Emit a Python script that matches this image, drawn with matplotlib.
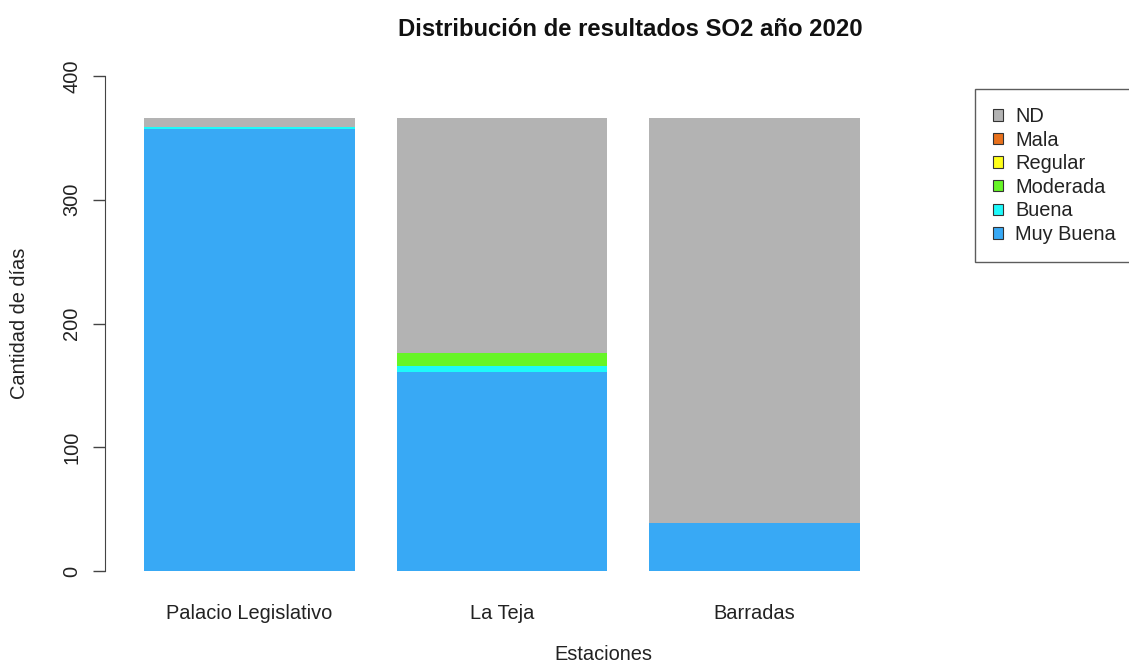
import matplotlib
matplotlib.use("Agg")
import matplotlib.pyplot as plt
from matplotlib.patches import Patch
import numpy as np

plt.rcParams['font.family'] = ['Liberation Sans', 'DejaVu Sans']

stations = ["Palacio Legislativo", "La Teja", "Barradas"]
categories = ["Muy Buena", "Buena", "Moderada", "Regular", "Mala", "ND"]
muy_buena = [357, 161, 39]
buena = [2, 5, 0]
moderada = [0, 10, 0]
regular = [0, 0, 0]
mala = [0, 0, 0]
nd = [7, 190, 327]
colors = ["#38A9F5", "#1EF9FA", "#66F526", "#FFFF1A", "#E8711C", "#B3B3B3"]
yticks = [0, 100, 200, 300, 400]

series = [muy_buena, buena, moderada, regular, mala, nd]

W, H = 1129, 664
fig = plt.figure(figsize=(W / 100, H / 100), dpi=100)
ax = fig.add_axes([105 / W, (H - 571) / H, 784 / W, 495 / H])

x = np.array([0.7, 1.9, 3.1])
bottom = np.zeros(3)
for vals, col in zip(series, colors):
    ax.bar(x, vals, width=1.0, bottom=bottom, color=col, edgecolor='none')
    bottom += np.array(vals)

ax.set_xlim(0.0148, 3.7375)
ax.set_ylim(0, 400)
for s in ['top', 'right', 'bottom']:
    ax.spines[s].set_visible(False)
ax.spines['left'].set_color('#444444')
ax.set_yticks(yticks)
ax.set_yticklabels([str(v) for v in yticks], rotation=90, va='center')
ax.tick_params(axis='y', length=9, width=1, color='#444444', pad=8, labelsize=14.4, labelcolor='#222222')
ax.set_xticks(x)
ax.set_xticklabels(stations)
ax.tick_params(axis='x', length=0, pad=24, labelsize=14.4, labelcolor='#222222')

fig.text(603 / W, 1 - 655 / H, "Estaciones", ha='center', va='center', fontsize=14.4, color='#222222')
fig.text(20 / W, 1 - 323 / H, "Cantidad de días", ha='center', va='center', rotation=90, fontsize=14.4, color='#222222')
fig.text(630 / W, 1 - 30 / H, "Distribución de resultados SO2 año 2020", ha='center', va='center',
         fontsize=17.2, fontweight='bold', color='#111111')

handles = [Patch(facecolor=c, edgecolor='#333333', linewidth=0.8) for c in colors[::-1]]
labels = categories[::-1]
leg = fig.legend(handles, labels, loc='upper left', bbox_to_anchor=(975 / W, 1 - 89 / H),
                 fontsize=14.4, frameon=True, fancybox=False, borderpad=0.9, labelspacing=0.23,
                 handlelength=0.5, handleheight=0.5, handletextpad=0.6, borderaxespad=0)
leg.get_frame().set_edgecolor('#333333')
leg.get_frame().set_linewidth(1.0)
for t in leg.get_texts():
    t.set_color('#222222')

fig.savefig("out.png", dpi=100)
